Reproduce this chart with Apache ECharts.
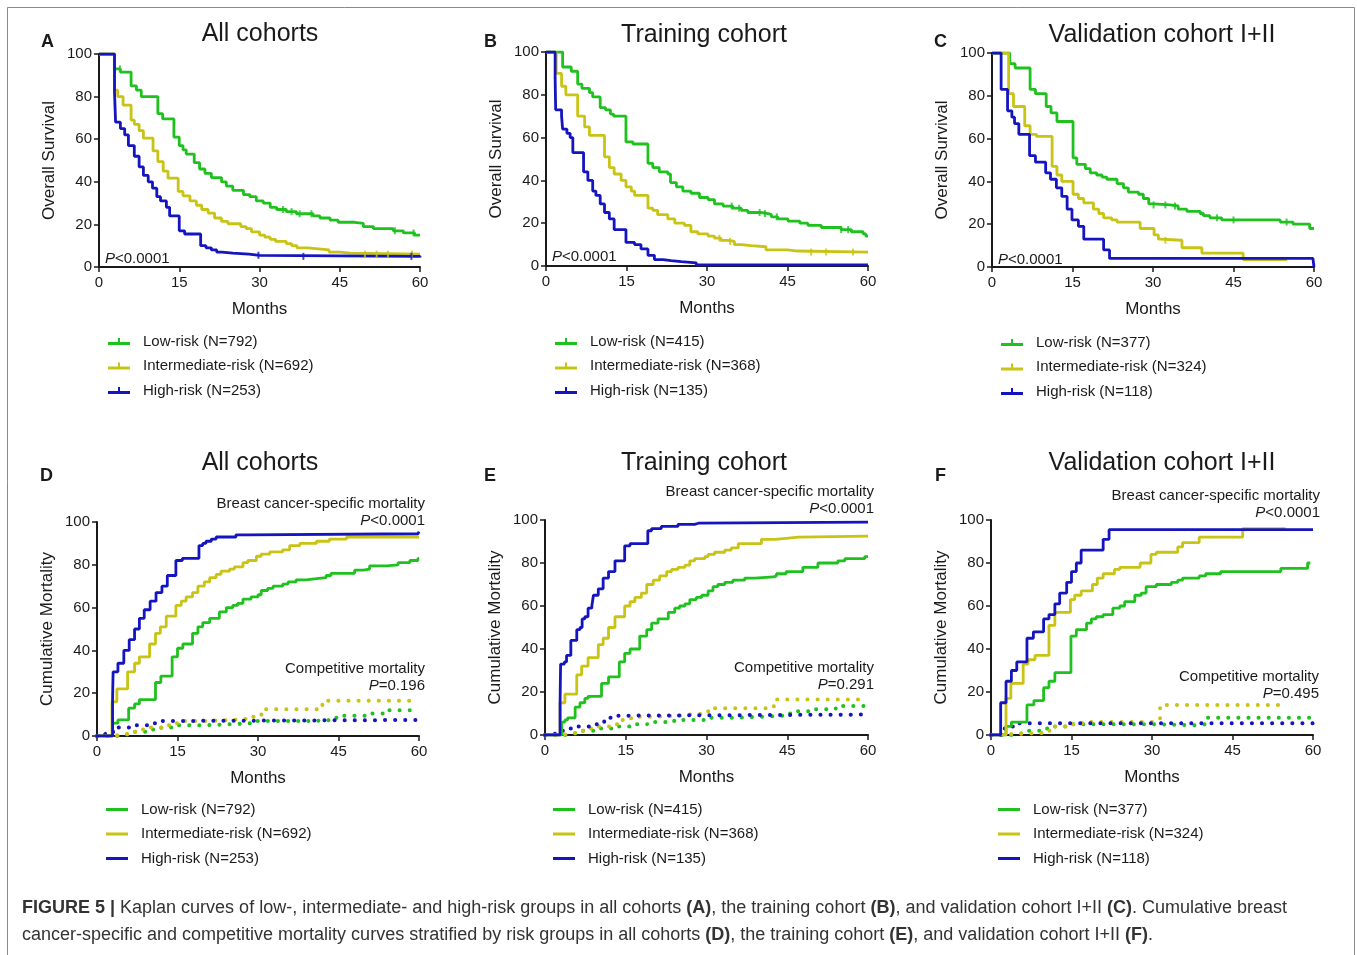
<!DOCTYPE html>
<html>
<head>
<meta charset="utf-8">
<script src="https://cdn.jsdelivr.net/npm/echarts@6/dist/echarts.min.js"></script>
<style>
  html, body { margin: 0; padding: 0; background: #fff; }
  #chart { width: 1357px; height: 955px; }
</style>
</head>
<body>
<div id="chart"></div>
<script>
// x axis ticks (months) and y axis ticks (%)
const monthTicks = [0, 15, 30, 45, 60];
const pctTicks = [0, 20, 40, 60, 80, 100];

// legend names per cohort
const namesAll = ['Low-risk (N=792)', 'Intermediate-risk (N=692)', 'High-risk (N=253)'];
const namesTrain = ['Low-risk (N=415)', 'Intermediate-risk (N=368)', 'High-risk (N=135)'];
const namesValid = ['Low-risk (N=377)', 'Intermediate-risk (N=324)', 'High-risk (N=118)'];

// A: overall survival, all cohorts  [month, %]
const osAllLow = [[0,100],[2.9,93],[4,91.5],[6,85],[7,83],[7.9,80],[11,72],[11.9,69.5],[14,61],[15,57],[15.7,55],[16.3,53],[17.8,49],[18.8,46],[19.8,44],[21,42],[22.9,40],[23.8,38],[25,36],[27,34],[28.2,33],[29.4,31],[30.7,30],[32,28],[33.2,27],[35,26],[36.9,25],[40,24],[41.3,23],[43.2,22],[44.7,21],[47.8,20.5],[49.4,19],[51.3,18],[55,17],[56.9,16],[59,15],[60,15]];
const osAllMid = [[0,100],[2.9,83],[3.5,80],[4.5,76],[6,69],[6.6,67],[7.5,64],[8.3,60.5],[10.1,54.5],[11,49.5],[12,45],[12.9,41.7],[14.8,35.5],[15.7,33.4],[17,31],[18.2,29],[19.2,27],[20.4,25.3],[21.6,23],[22.9,21.4],[24.1,20.3],[26.5,19],[27.5,18],[28.5,16.5],[30,15],[31,14],[32,13],[33,12],[35,11],[36,10],[37,9],[39,8.5],[41,8],[43,7],[45,6.5],[47,6],[60,6]];
const osAllHigh = [[0,100],[2.9,82],[3.1,68],[4,65],[4.8,62],[5.5,57],[6.6,52],[7.5,47],[8.3,43],[9.2,40],[10,37],[10.8,33],[11.5,31],[12.6,28],[13.2,24],[15,17],[16,15.5],[19,10],[20,9],[21,8],[22,7],[23,6.5],[25,6],[28,5.5],[30,5],[59.5,5],[60,4.5]];

// B: overall survival, training cohort
const osTrainLow = [[0,100],[3.1,93],[4.7,91],[5.9,85],[6.7,83],[8.1,81],[8.7,79],[10.1,74],[11.1,73],[12,71],[12.6,70],[14.9,58],[16.2,57],[19,48],[19.9,46],[21.1,44],[22.7,43],[23.2,39],[24.3,37],[25.5,35],[27,34],[28.6,32],[30.2,31],[31.4,29],[33,28],[34.8,27],[36.4,26],[37.6,25],[40,24.5],[41.4,24],[42,23],[43.2,22],[45.1,21],[47.3,20],[48.8,19],[51.3,18],[55,17],[56.9,16],[59.1,15],[59.6,14],[60,14]];
const osTrainMid = [[0,100],[1.9,90],[2.9,84],[3.7,80],[5.9,70],[7.2,65],[8.1,61],[10.9,51],[11.8,46],[12.7,43],[14,40],[14.9,37],[15.9,35],[16.5,33],[19,27],[19.9,26],[20.8,24],[22.7,22],[24,20],[25.8,19],[27,16],[28.3,15],[30.2,14],[31.4,13],[32.6,12],[33.9,11.5],[35.1,10],[36.4,9.5],[38.2,9],[41,7.5],[45,7],[47,6.5],[60,6.5]];
const osTrainHigh = [[0,100],[1.7,88],[1.8,73],[2.9,70],[3.1,64],[3.9,62],[4.5,60],[5,53],[7,44],[7.8,40],[8.7,35],[9.3,33],[10.1,29],[10.9,25],[11.8,22],[12.7,17],[14.9,11],[16.5,10],[17.7,8],[19,5],[20.2,3],[21.8,2.5],[23.3,2],[25.2,1.5],[28,0.5],[60,0.5]];

// C: overall survival, validation cohort I+II
const osValidLow = [[0,100],[3.3,95],[4.3,93],[7.1,83],[8.1,81],[10.1,75],[11,72],[12.1,68],[15.1,51],[15.8,48],[17.4,46],[18.3,44],[19.5,43],[20.5,42],[21.4,41],[23.3,39],[24.5,37],[25.4,35],[27.3,34],[28.2,32],[29.2,29.5],[30.1,29],[33.2,28.5],[34.7,27],[36.3,26],[38.8,25],[39.4,24],[40.6,23],[42.8,22],[53.7,21],[56.1,20],[59.2,18],[60,18]];
const osValidMid = [[0,100],[3.1,81],[4,75],[6.1,66],[7.1,62],[8.3,61],[11.2,47],[12.1,43],[13,40],[15.1,34],[16.1,32],[17.1,30],[18.9,27],[19.9,25],[20.8,23],[22.3,22],[23.3,21],[27.6,18],[30.2,15],[31,13],[31.5,12.5],[35.4,9],[39.1,6.5],[46.8,3.5],[55,3.5]];
const osValidHigh = [[0,100],[1.7,83],[2.9,73],[3.7,70],[4.2,67],[5,62],[7,52],[8.1,49],[10,44],[10.9,41],[12,37],[13,33],[14,27],[14.9,22],[16.1,19],[17.1,13],[20.8,8],[21.9,4],[59.8,4],[60,0]];

// censoring times (months) on the survival curves
const censorAllLow = [3.9, 34.4, 36, 37.5, 39.7, 55.3, 58.8];
const censorAllMid = [49.7, 51.9, 54, 58.5];
const censorAllHigh = [29.8, 38.2, 58.4];
const censorTrainLow = [34.6, 36, 39.8, 40.8, 43, 55, 56.3];
const censorTrainMid = [32.3, 34.3, 49.4, 52.2, 57.2];
const censorTrainHigh = [];
const censorValidLow = [30.1, 32.3, 34.1, 41.9, 45, 54.9];
const censorValidMid = [32.3];
const censorValidHigh = [];

// D: cumulative mortality, all cohorts (solid = breast cancer-specific, dotted = competitive)
const bcAllLow = [[0,0],[2.9,6],[3.9,7.5],[5.9,13],[7,15],[7.9,17],[10.9,25],[11.9,28],[14,37],[15,41],[16,43],[17.8,48],[18.8,51],[19.7,53],[21,55],[22.8,58],[24.1,60],[25.3,61],[26.2,62],[27.2,64],[28.7,65],[30,66],[30.6,68],[31.8,69],[32.8,70],[34.6,71],[35.6,72],[37.1,73],[39,73.5],[40.9,74],[42.7,75],[43.6,76],[48,77.5],[49.6,78],[50.8,79.5],[53.9,80],[56.1,81],[58.3,82],[59.8,83],[60,83]];
const bcAllMid = [[0,0],[2.8,16],[3.7,22],[5.7,30],[7,34],[7.9,37],[9.8,43],[10.9,48],[11.8,51],[12.9,56],[14.7,61],[15.7,63],[16.6,65],[17.8,67],[18.8,70],[20,72],[21,74],[22.2,75.5],[23.1,77],[24.7,78],[25.6,79],[27.2,81],[28.1,82],[29.7,84],[30.6,85],[32.2,86],[34.6,87],[35.9,89],[37.8,90],[40.9,91],[43.3,92],[46.5,93],[60,93]];
const bcAllHigh = [[0,0],[2.9,17],[3,30],[3.9,34],[5,40],[6,45],[7,50],[7.9,55],[8.8,59],[9.9,63],[11,67],[12.1,70],[13.1,75],[14.7,82],[15.9,83],[19,89],[19.7,90],[20.3,91],[21.3,92],[22.2,93],[25.9,94],[28.1,94.5],[59.8,94.5],[60,95.5]];
const cmAllLow = [[0,0],[4.5,0.5],[5,1],[7,2],[9,3],[12,4],[15,5],[20,5.5],[25,6],[29,7],[40,7.5],[44,8.5],[46,9.5],[50,10.5],[54,12],[60,12]];
const cmAllMid = [[0,0],[3.5,0.5],[4,1],[6,2],[8,3],[10,4],[13,5],[14,6],[15,7],[20,7.5],[25,8],[28,9],[30,10],[31,12.5],[42,16.5],[59,16.5]];
const cmAllHigh = [[0,0],[1.5,1],[3,2],[4,4],[6,5],[10,6],[12,7],[13,7.5],[60,7.5]];

// E: cumulative mortality, training cohort
const bcTrainLow = [[0,0],[3.1,6],[3.7,7],[4.2,8],[5.6,13],[6.5,15],[7.4,17],[8,18],[10.5,24],[11.8,27],[13.8,34],[14.8,38],[15.8,40],[17.6,46],[18.9,49],[19.8,52],[21,54],[22.9,57],[24.1,59],[25,60],[26,61],[26.9,63],[28.1,64],[29.1,65],[30.3,67],[31.2,69],[32.1,70],[33.4,71],[34.9,72],[37.1,73],[39,73.5],[42.4,74],[43,75],[44.8,76],[47.9,78],[50.7,80],[54.4,81],[55.7,82],[59.4,83],[60,83]];
const bcTrainMid = [[0,0],[2.8,15],[3.7,19],[5.9,28],[6.8,32],[8,36],[9.9,42],[10.8,45],[11.8,50],[13,55],[14.8,60],[15.8,62],[16.7,64],[17.9,66],[18.9,70],[20.1,72],[21.3,74],[22.6,76],[23.5,77],[24.7,78],[26,79],[26.9,81],[27.8,82],[29.7,83],[30.3,84],[31.5,85],[33.4,86],[34.6,87],[35.9,89],[40.2,91],[42.7,91.5],[44.8,92],[47,92.5],[60,92.5]];
const bcTrainHigh = [[0,0],[2.8,15],[2.9,33],[3.6,34],[4,37],[4.8,44],[5.9,49],[6.5,50],[6.9,54],[7.4,55],[8,59],[8.7,60],[9,65],[9.9,68],[10.8,73],[11.8,76],[13,81],[14.8,88],[15.8,89],[19.1,95],[19.8,96],[21.6,97],[24.7,98],[27.8,98.5],[28.5,99],[60,99]];
const cmTrainLow = [[0,0],[4.5,0.5],[5,1],[7,2],[10,3],[13,4],[16,5],[19,6],[24,7],[30,8],[35,8.5],[40,9],[45,10],[47,11],[50,12],[54,13.5],[60,13.5]];
const cmTrainMid = [[0,0],[3.5,0.5],[4,1],[6,2],[8,3],[10,4],[12,5],[14,7],[16,8.5],[20,9],[25,9.5],[27,10],[30,11],[31,12.5],[42.5,16.5],[60,16.5]];
const cmTrainHigh = [[0,0],[1,0.5],[1.5,1],[3,2],[4,3],[6,4],[9,5],[10,6],[11,7],[12,8],[13,9],[14.5,9.5],[60,9.5]];

// F: cumulative mortality, validation cohort I+II
const bcValidLow = [[0,0],[2.8,4],[3.8,6],[6.7,14],[8,16],[9.8,22],[10.8,25],[11.9,29],[14.9,46],[15.9,49],[17.8,52],[18.7,54],[19.6,55],[20.9,56],[22.7,59],[24,60],[24.9,62],[26.8,65],[28,66],[28.9,69],[30.8,70],[33.6,71],[34.8,72],[35.7,73],[38.8,74],[40,75],[42.8,76],[54,77.5],[59,80],[59.5,80]];
const bcValidMid = [[0,0],[2.8,17],[3.7,24],[6,33],[6.9,35],[8.2,37],[10.8,51],[11.9,57],[14.8,63],[15.6,65],[16.8,67],[18.9,70],[19.8,73],[20.9,75],[23,77],[24,78],[27.8,80],[29.8,84],[30.8,85],[34.8,87.5],[35.7,89.5],[38.8,92],[46.9,96],[54.9,96]];
const bcValidHigh = [[0,0],[1.8,15],[2.8,25],[3.8,30],[4.8,34],[6.7,45],[7.9,48],[9.8,54],[10.8,56],[11.9,61],[12.8,66],[14.1,71],[15,76],[15.9,80],[16.8,86],[20.9,91],[22,95.5],[60,95.5]];
const cmValidLow = [[0,0],[4,0.5],[5,1],[7,2],[9,3],[11,4],[14,5],[31,4.5],[38,5],[40,8],[60,8]];
const cmValidMid = [[0,0],[2,0.5],[4,1],[10,2],[12,4],[14,5],[17,6],[30,6.5],[31,7],[31.5,14],[55,14]];
const cmValidHigh = [[0,0],[2,2],[2.5,3],[3.5,4],[4.2,5.5],[60,5.5]];

const colors = ['#1fc11f', '#c8c315', '#1515c0'];
const FONT = '"Liberation Sans", Arial, Helvetica, sans-serif';
const INK = '#1a1a1a';

const panels = [
  { grid: { left: 99, top: 54, width: 321, height: 213 }, yName: 'Overall Survival', names: namesAll,
    solid: [osAllLow, osAllMid, osAllHigh], censor: [censorAllLow, censorAllMid, censorAllHigh],
    legend: { left: 103, top: 329 }, censorIcon: true },
  { grid: { left: 546, top: 52, width: 322, height: 214 }, yName: 'Overall Survival', names: namesTrain,
    solid: [osTrainLow, osTrainMid, osTrainHigh], censor: [censorTrainLow, censorTrainMid, censorTrainHigh],
    legend: { left: 550, top: 329 }, censorIcon: true },
  { grid: { left: 992, top: 53, width: 322, height: 214 }, yName: 'Overall Survival', names: namesValid,
    solid: [osValidLow, osValidMid, osValidHigh], censor: [censorValidLow, censorValidMid, censorValidHigh],
    legend: { left: 996, top: 330 }, censorIcon: true },
  { grid: { left: 97, top: 522, width: 322, height: 214 }, yName: 'Cumulative Mortality', names: namesAll,
    solid: [bcAllLow, bcAllMid, bcAllHigh], dotted: [cmAllLow, cmAllMid, cmAllHigh], legend: { left: 101, top: 797 } },
  { grid: { left: 545, top: 520, width: 323, height: 215 }, yName: 'Cumulative Mortality', names: namesTrain,
    solid: [bcTrainLow, bcTrainMid, bcTrainHigh], dotted: [cmTrainLow, cmTrainMid, cmTrainHigh], legend: { left: 548, top: 797 } },
  { grid: { left: 991, top: 520, width: 322, height: 215 }, yName: 'Cumulative Mortality', names: namesValid,
    solid: [bcValidLow, bcValidMid, bcValidHigh], dotted: [cmValidLow, cmValidMid, cmValidHigh], legend: { left: 993, top: 797 } }
];

// value of a step curve just at month t
function stepAt(data, t) {
  let v = data[0][1];
  for (let j = 0; j < data.length && data[j][0] <= t; j++) v = data[j][1];
  return v;
}

const grids = [], xAxes = [], yAxes = [], series = [], legends = [];

panels.forEach(function (p, i) {
  grids.push(p.grid);
  xAxes.push({
    gridIndex: i, type: 'value', min: monthTicks[0], max: monthTicks[monthTicks.length - 1], interval: 15,
    name: 'Months', nameLocation: 'middle', nameGap: 34,
    nameTextStyle: { fontSize: 17, color: INK, fontFamily: FONT },
    axisLine: { lineStyle: { color: INK, width: 2 } },
    axisTick: { length: 5, lineStyle: { color: INK, width: 1.5 } },
    axisLabel: { fontSize: 15, color: INK, fontFamily: FONT, margin: 8 },
    splitLine: { show: false }
  });
  yAxes.push({
    gridIndex: i, type: 'value', min: pctTicks[0], max: pctTicks[pctTicks.length - 1], interval: 20,
    name: p.yName, nameLocation: 'middle', nameGap: 41,
    nameTextStyle: { fontSize: 17, color: INK, fontFamily: FONT },
    axisLine: { show: true, lineStyle: { color: INK, width: 2 } },
    axisTick: { show: true, length: 5, lineStyle: { color: INK, width: 1.5 } },
    axisLabel: { fontSize: 15, color: INK, fontFamily: FONT, margin: 7 },
    splitLine: { show: false }
  });
  (p.dotted || []).forEach(function (d, k) {
    series.push({
      name: p.names[k] + ' competitive', type: 'line', step: 'end', xAxisIndex: i, yAxisIndex: i,
      data: d, showSymbol: false, symbol: 'none', silent: true,
      lineStyle: { color: colors[k], width: 4, type: [0.1, 10], cap: 'round' }, itemStyle: { color: colors[k] }
    });
  });
  p.solid.forEach(function (d, k) {
    series.push({
      name: p.names[k], type: 'line', step: 'end', xAxisIndex: i, yAxisIndex: i,
      data: d, showSymbol: false, symbol: 'none', silent: true,
      lineStyle: { color: colors[k], width: 2.8 }, itemStyle: { color: colors[k] }
    });
  });
  (p.censor || []).forEach(function (ts, k) {
    if (!ts.length) return;
    series.push({
      name: p.names[k] + ' censored', type: 'scatter', xAxisIndex: i, yAxisIndex: i,
      data: ts.map(function (t) { return [t, stepAt(p.solid[k], t)]; }),
      symbol: 'rect', symbolSize: [2, 7], silent: true, z: 3,
      itemStyle: { color: colors[k] }
    });
  });
  legends.push({
    data: p.names, orient: 'vertical', left: p.legend.left, top: p.legend.top,
    itemWidth: 22, itemHeight: p.censorIcon ? 7 : 3, itemGap: 9.5, selectedMode: false,
    icon: p.censorIcon ? 'path://M0,4h22v3h-22z M10,0h2v4h-2z' : 'rect',
    textStyle: { fontSize: 15, color: INK, fontFamily: FONT, padding: [0, 0, 0, 8] }
  });
});

function txt(x, y, text, size, opts) {
  opts = opts || {};
  return {
    type: 'text', x: x, y: y, silent: true,
    style: {
      text: text, fill: opts.fill || INK,
      font: (opts.weight || 'normal') + ' ' + size + 'px ' + FONT,
      fontSize: size, fontFamily: FONT, fontWeight: opts.weight || 'normal',
      textAlign: opts.align || 'left', align: opts.align || 'left',
      textVerticalAlign: 'middle', verticalAlign: 'middle',
      rich: opts.rich
    }
  };
}
function pRich(size) {
  return {
    i: { fontStyle: 'italic', fontSize: size, fontFamily: FONT, fill: INK, color: INK },
    n: { fontSize: size, fontFamily: FONT, fill: INK, color: INK }
  };
}

const graphics = [
  { type: 'rect', shape: { x: 7.5, y: 7.5, width: 1347, height: 960 }, style: { fill: 'none', stroke: '#8a8a8a', lineWidth: 1 }, silent: true },
  txt(260, 34, 'All cohorts', 25, { align: 'center' }),
  txt(704, 35, 'Training cohort', 25, { align: 'center' }),
  txt(1162, 35, 'Validation cohort I+II', 25, { align: 'center' }),
  txt(260, 463, 'All cohorts', 25, { align: 'center' }),
  txt(704, 463, 'Training cohort', 25, { align: 'center' }),
  txt(1162, 463, 'Validation cohort I+II', 25, { align: 'center' }),
  txt(41, 42, 'A', 18, { weight: 'bold' }),
  txt(484, 42, 'B', 18, { weight: 'bold' }),
  txt(934, 42, 'C', 18, { weight: 'bold' }),
  txt(40, 476, 'D', 18, { weight: 'bold' }),
  txt(484, 476, 'E', 18, { weight: 'bold' }),
  txt(935, 476, 'F', 18, { weight: 'bold' }),
  txt(105, 259, '{i|P}{n|<0.0001}', 15, { rich: pRich(15) }),
  txt(552, 257, '{i|P}{n|<0.0001}', 15, { rich: pRich(15) }),
  txt(998, 260, '{i|P}{n|<0.0001}', 15, { rich: pRich(15) }),
  txt(425, 504, 'Breast cancer-specific mortality', 15, { align: 'right' }),
  txt(425, 521, '{i|P}{n|<0.0001}', 15, { align: 'right', rich: pRich(15) }),
  txt(425, 669, 'Competitive mortality', 15, { align: 'right' }),
  txt(425, 686, '{i|P}{n|=0.196}', 15, { align: 'right', rich: pRich(15) }),
  txt(874, 492, 'Breast cancer-specific mortality', 15, { align: 'right' }),
  txt(874, 509, '{i|P}{n|<0.0001}', 15, { align: 'right', rich: pRich(15) }),
  txt(874, 668, 'Competitive mortality', 15, { align: 'right' }),
  txt(874, 685, '{i|P}{n|=0.291}', 15, { align: 'right', rich: pRich(15) }),
  txt(1320, 496, 'Breast cancer-specific mortality', 15, { align: 'right' }),
  txt(1320, 513, '{i|P}{n|<0.0001}', 15, { align: 'right', rich: pRich(15) }),
  txt(1319, 677, 'Competitive mortality', 15, { align: 'right' }),
  txt(1319, 694, '{i|P}{n|=0.495}', 15, { align: 'right', rich: pRich(15) })
];

// figure caption
const capRich = {
  b: { fontWeight: 'bold', fontSize: 18, fontFamily: FONT, fill: '#333', color: '#333' },
  n: { fontSize: 18, fontFamily: FONT, fill: '#333', color: '#333' }
};
graphics.push(txt(22, 908, '{b|FIGURE 5 |}{n| Kaplan curves of low-, intermediate- and high-risk groups in all cohorts }{b|(A)}{n|, the training cohort }{b|(B)}{n|, and validation cohort I+II }{b|(C)}{n|. Cumulative breast}', 18, { rich: capRich }));
graphics.push(txt(22, 935, '{n|cancer-specific and competitive mortality curves stratified by risk groups in all cohorts }{b|(D)}{n|, the training cohort }{b|(E)}{n|, and validation cohort I+II }{b|(F)}{n|.}', 18, { rich: capRich }));

const chart = echarts.init(document.getElementById('chart'), null, { renderer: 'canvas' });
chart.setOption({
  animation: false,
  backgroundColor: '#fff',
  textStyle: { fontFamily: FONT },
  grid: grids,
  xAxis: xAxes,
  yAxis: yAxes,
  legend: legends,
  series: series,
  graphic: graphics
});
</script>
</body>
</html>
